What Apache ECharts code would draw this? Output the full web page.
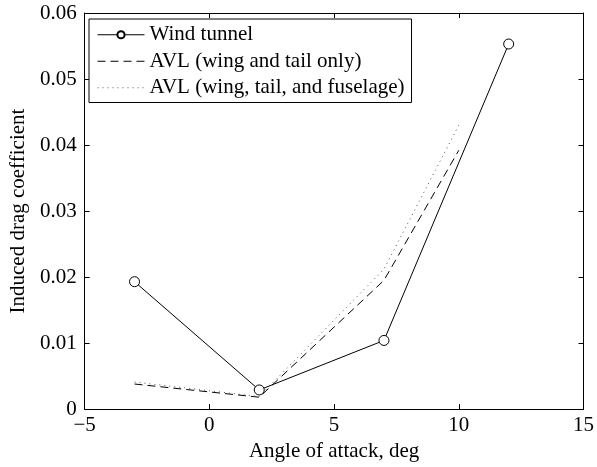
<!DOCTYPE html>
<html>
<head>
<meta charset="utf-8">
<script src="https://cdn.jsdelivr.net/npm/echarts@6/dist/echarts.min.js"></script>
<style>
  html, body { margin: 0; padding: 0; background: #fff; }
  #chart { width: 597px; height: 467px; }
</style>
</head>
<body>
<div id="chart"></div>
<script>
// Induced drag coefficient vs. angle of attack
const windAlpha = [-3, 2, 7, 12];
const windCdi = [0.0193, 0.0029, 0.0104, 0.0553];

const avlAlpha = [-3, 2, 7, 10];
const avlWingTail = [0.0038, 0.0018, 0.0195, 0.0392];
const avlWingTailFuse = [0.0041, 0.0019, 0.0212, 0.0430];

const seriesNames = [
  'Wind tunnel',
  'AVL (wing and tail only)',
  'AVL (wing, tail, and fuselage)'
];

const xTicks = { min: -5, max: 15, interval: 5 };
const yTicks = { min: 0, max: 0.06, interval: 0.01 };

const FONT = '"Liberation Serif", "Times New Roman", serif';
const FS = 21;

function pairs(xs, ys) {
  return xs.map((x, i) => [x, ys[i]]);
}

const axisLineStyle = { show: true, onZero: false, lineStyle: { color: '#000', width: 1 } };
const tickStyle = { show: true, inside: true, length: 5, lineStyle: { color: '#000', width: 1 } };

const chart = echarts.init(document.getElementById('chart'), null, { renderer: 'canvas' });

chart.setOption({
  animation: false,
  backgroundColor: '#fff',
  grid: { left: 82, right: 11, top: 13, bottom: 54, containLabel: false },
  legend: {
    orient: 'vertical',
    left: 89,
    top: 19,
    padding: [5, 7, 4, 8],
    itemGap: 5,
    itemWidth: 47,
    itemHeight: 9,
    borderColor: '#000',
    borderWidth: 1,
    backgroundColor: '#fff',
    lineStyle: { width: 1 },
    data: [
      { name: seriesNames[0] },
      { name: seriesNames[1], itemStyle: { opacity: 0 } },
      { name: seriesNames[2], itemStyle: { opacity: 0 } }
    ],
    textStyle: { fontFamily: FONT, fontSize: FS, lineHeight: 21.5, color: '#000' }
  },
  xAxis: [
    {
      type: 'value',
      min: xTicks.min, max: xTicks.max, interval: xTicks.interval,
      name: 'Angle of attack, deg',
      nameLocation: 'middle',
      nameGap: 29,
      nameTextStyle: { fontFamily: FONT, fontSize: FS, color: '#000' },
      axisLine: axisLineStyle,
      axisTick: tickStyle,
      splitLine: { show: false },
      axisLabel: {
        fontFamily: FONT, fontSize: FS, color: '#000', margin: 6,
        formatter: v => String(v).replace('-', '\u2212')
      }
    },
    {
      type: 'value',
      position: 'top',
      min: xTicks.min, max: xTicks.max, interval: xTicks.interval,
      axisLine: axisLineStyle,
      axisTick: tickStyle,
      axisLabel: { show: false },
      splitLine: { show: false }
    }
  ],
  yAxis: [
    {
      type: 'value',
      min: yTicks.min, max: yTicks.max, interval: yTicks.interval,
      name: 'Induced drag coefficient',
      nameLocation: 'middle',
      nameGap: 51,
      nameTextStyle: { fontFamily: FONT, fontSize: FS, color: '#000' },
      axisLine: axisLineStyle,
      axisTick: tickStyle,
      splitLine: { show: false },
      axisLabel: {
        fontFamily: FONT, fontSize: FS, color: '#000', margin: 8,
        formatter: v => (v === 0 ? '0' : v.toFixed(2))
      }
    },
    {
      type: 'value',
      position: 'right',
      min: yTicks.min, max: yTicks.max, interval: yTicks.interval,
      axisLine: axisLineStyle,
      axisTick: tickStyle,
      axisLabel: { show: false },
      splitLine: { show: false }
    }
  ],
  series: [
    {
      name: seriesNames[0],
      type: 'line',
      data: pairs(windAlpha, windCdi),
      symbol: 'circle',
      symbolSize: 10,
      showAllSymbol: true,
      itemStyle: { color: '#fff', borderColor: '#000', borderWidth: 1 },
      lineStyle: { color: '#000', width: 1, type: 'solid' },
      color: '#000',
      z: 3
    },
    {
      name: seriesNames[1],
      type: 'line',
      data: pairs(avlAlpha, avlWingTail),
      symbol: 'none',
      lineStyle: { color: '#000', width: 1, type: [8, 5] },
      itemStyle: { color: '#000' },
      color: '#000',
      z: 2
    },
    {
      name: seriesNames[2],
      type: 'line',
      data: pairs(avlAlpha, avlWingTailFuse),
      symbol: 'none',
      lineStyle: { color: '#555', width: 1, type: [1, 4] },
      itemStyle: { color: '#555' },
      color: '#555',
      z: 2
    }
  ]
});
</script>
</body>
</html>
